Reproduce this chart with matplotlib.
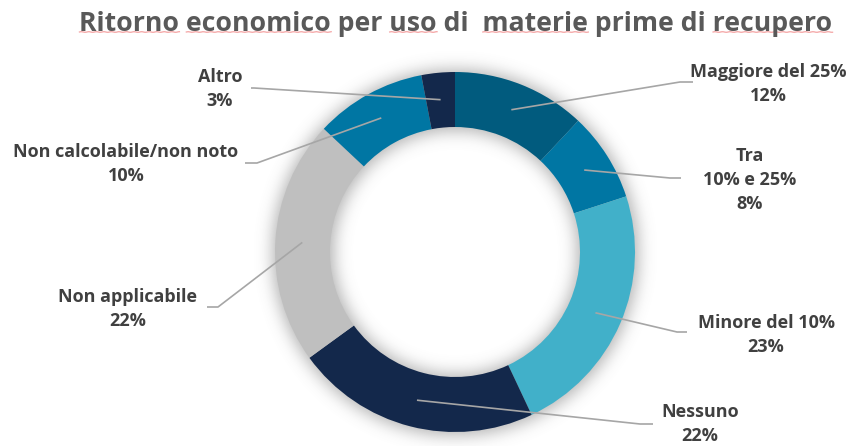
import numpy as np
import matplotlib.pyplot as plt

# survey answers, clockwise from 12 o'clock
categories = ['Maggiore del 25%', 'Tra\n10% e 25%', 'Minore del 10%', 'Nessuno',
              'Non applicabile', 'Non calcolabile/non noto', 'Altro']
shares = [12, 8, 23, 22, 22, 10, 3]
colors = ['#015b7e', '#0076a3', '#41b0c9', '#13284b', '#bfbfbf', '#0076a3', '#13284b']

title = 'Ritorno economico per uso di  materie prime di recupero'
flagged_words = ['Ritorno', 'economico', 'uso', 'materie', 'recupero']

W, H = 861, 446
CX, CY = 455, 252          # ring centre (pixels from top-left)
R_OUT, R_IN = 180, 125
R_LEADER = 153

# label centres and leader-line elbows (bend, end), pixels from top-left
label_xy = [(768, 84), (750, 180), (766, 335), (700, 424), (128, 309), (126, 164), (220, 89)]
elbows = [((680, 82), (693, 82)), ((670, 178), (681, 178)), ((677, 332), (687, 332)),
          ((640, 424), (653, 424)), ((218, 307), (207, 307)), ((257, 163), (245, 163)),
          ((254, 88), (251, 88))]

FONT = 'Open Sans'
LABEL_COLOR = '#404040'
LINE_COLOR = '#a6a6a6'


def gaussian_blur(img, sigma):
    k = np.arange(-int(3 * sigma), int(3 * sigma) + 1)
    kern = np.exp(-k ** 2 / (2 * sigma ** 2))
    kern /= kern.sum()
    out = np.apply_along_axis(lambda v: np.convolve(v, kern, mode='same'), 0, img)
    out = np.apply_along_axis(lambda v: np.convolve(v, kern, mode='same'), 1, out)
    return out


fig = plt.figure(figsize=(W / 100, H / 100), dpi=100)
ax = fig.add_axes([0, 0, 1, 1])

# soft halo under the ring
yy, xx = np.mgrid[0:H, 0:W]
rr = np.hypot(xx - CX, yy - CY)
ring = ((rr <= R_OUT + 3) & (rr >= R_IN - 3)).astype(float)
halo = gaussian_blur(ring, 8)
rgba = np.zeros((H, W, 4))
rgba[..., :3] = 0.45
rgba[..., 3] = halo * 0.55
ax.imshow(rgba, extent=[0, W, 0, H], origin='upper', zorder=0, interpolation='bilinear')

wedges, _ = ax.pie(shares, colors=colors, startangle=90, counterclock=False,
                   radius=R_OUT, center=(CX, H - CY),
                   wedgeprops=dict(width=R_OUT - R_IN, linewidth=0))
for w in wedges:
    w.set_zorder(2)

for w, label, share, (lx, ly), (bend, end) in zip(wedges, categories, shares, label_xy, elbows):
    mid = np.deg2rad((w.theta1 + w.theta2) / 2)
    sx = CX + R_LEADER * np.cos(mid)
    sy = (H - CY) + R_LEADER * np.sin(mid)
    ax.plot([sx, bend[0], end[0]], [sy, H - bend[1], H - end[1]],
            color=LINE_COLOR, lw=1.2, zorder=3, solid_capstyle='butt')
    ax.text(lx, H - ly, f'{label}\n{share}%', ha='center', va='center',
            fontsize=13, fontweight='bold', family=FONT, color=LABEL_COLOR,
            linespacing=1.45, zorder=4)

ax.set_xlim(0, W)
ax.set_ylim(0, H)
ax.set_aspect('equal')
ax.axis('off')

# title, with the spell-check underline under some words
title_kw = dict(fontsize=19.2, fontweight='bold', family=FONT, color='#595959')
t = fig.text(456 / W, 1 - 24 / H, title, ha='center', va='center', **title_kw)
fig.canvas.draw()
renderer = fig.canvas.get_renderer()
tb = t.get_window_extent(renderer)


def text_width(s):
    tmp = fig.text(0, 0, s, **title_kw)
    wdt = tmp.get_window_extent(renderer).width
    tmp.remove()
    return wdt


for word in flagged_words:
    i = title.index(word)
    right = tb.x0 + text_width(title[:i + len(word)])
    left = right - text_width(word)
    xs = np.linspace(left, right, 80)
    ys = tb.y0 + 5 + 0.3 * np.sin((xs - left) / 1.2)
    fig.add_artist(plt.Line2D(xs / W, ys / H, color='#f4a3a3', lw=0.9,
                              transform=fig.transFigure))

fig.savefig('out.png', dpi=100)
